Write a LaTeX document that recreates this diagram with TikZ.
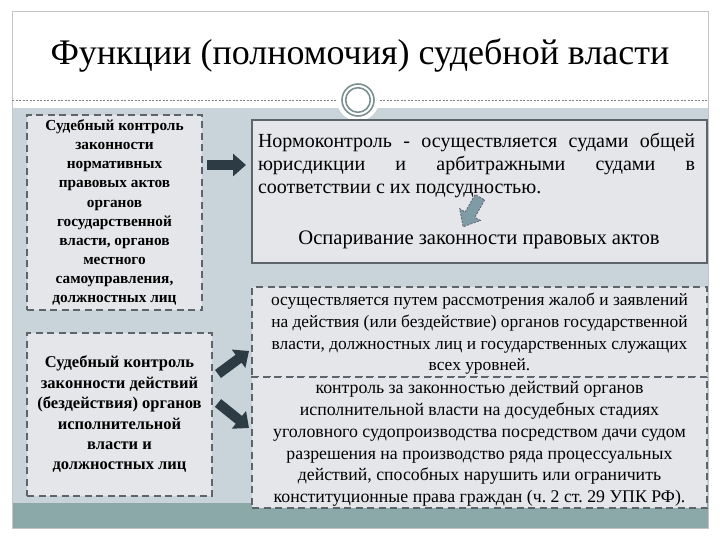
\documentclass[tikz,border=0pt]{standalone}
\usepackage{fontspec}
\setmainfont{Liberation Serif}
\usetikzlibrary{arrows.meta,calc}
\definecolor{slidebg}{HTML}{C9D3DA}
\definecolor{bandteal}{HTML}{8AA9A8}
\definecolor{boxfill}{HTML}{E5E6E9}
\definecolor{boxline}{HTML}{5D656B}
\definecolor{arrowdark}{HTML}{2C3B44}
\definecolor{ringcol}{HTML}{7B9090}
\definecolor{framegray}{HTML}{C4C4C4}
\definecolor{smallarrow}{HTML}{7F9CA6}
\tikzset{
  dbox/.style={draw=boxline, fill=boxfill, line width=2.5pt, dash pattern=on 7pt off 4.5pt, inner sep=0pt},
  sbox/.style={draw=boxline, fill=boxfill, line width=2pt, inner sep=0pt},
  bigarrow/.style={draw=arrowdark, line width=10pt, -{Triangle[length=13pt,width=22pt]}, shorten >=0pt},
  ring/.style={draw=ringcol, line width=1.6pt},
  boldtxt/.style={align=center, font=\fontsize{15.3}{19.1}\selectfont\bfseries},
  plaintxt/.style={align=center, font=\fontsize{17.8}{21.7}\selectfont},
}
\begin{document}
\frenchspacing
\begin{tikzpicture}[x=1pt,y=-1pt]
\useasboundingbox (0,0) rectangle (720,540);
\fill[white] (0,0) rectangle (720,540);
\fill[slidebg] (12,108) rectangle (708,503);
\fill[bandteal] (12,503) rectangle (708,528);
\draw[framegray, line width=1pt] (12,12) rectangle (708,528);
\draw[gray, line width=0.6pt, dash pattern=on 2pt off 1.5pt] (12,100) -- (708,100);
\fill[white] (358,100) circle (21);
\draw[ring] (358,100) circle (16);
\draw[ring] (358,100) circle (12.3);
\node (title) at (360,56) {\fontsize{36}{40}\selectfont Функции (полномочия) судебной власти};

% boxes
\node[dbox, minimum width=175pt, minimum height=195pt] (b1) at (114.5,212.5) {};
\node[boldtxt] (t1) at (b1.center) {Судебный контроль\\законности\\нормативных\\правовых актов\\органов\\государственной\\власти, органов\\местного\\самоуправления,\\должностных лиц};

\node[sbox, minimum width=455pt, minimum height=143pt] (b2) at (479.5,191.5) {};
\node[text width=437pt, align=justify, font=\fontsize{20}{23}\selectfont, inner sep=0pt] (norm) at (476.5,166) {Нормоконтроль - осуществляется судами общей\linebreak юрисдикции и арбитражными судами в\linebreak соответствии с их подсудностью.};
\node[font=\fontsize{20.6}{23}\selectfont] (osp) at (479,240) {Оспаривание законности правовых актов};
\filldraw[fill=smallarrow, draw=boxline, line width=0.8pt, dash pattern=on 2pt off 1.5pt]
  (484.67,199.92) -- (474.81,217.32) -- (480.46,220.53) -- (463.12,226.79)
  -- (459.58,208.69) -- (465.24,211.90) -- (475.10,194.50) -- cycle;

\node[dbox, minimum width=185pt, minimum height=163pt] (b3) at (119.5,414.5) {};
\node[boldtxt, font=\fontsize{16.5}{20.4}\selectfont\bfseries] (t3) at (b3.center) {Судебный контроль\\законности действий\\(бездействия) органов\\исполнительной\\власти и\\должностных лиц};

\node[dbox, minimum width=455pt, minimum height=90pt] (b4) at (479.5,332) {};
\node[plaintxt, font=\fontsize{17.4}{21.7}\selectfont] (t4) at ($(b4.center)+(0,2)$) {осуществляется путем рассмотрения жалоб и заявлений\\на действия (или бездействие) органов государственной\\власти, должностных лиц и государственных служащих\\всех уровней.};

\node[dbox, minimum width=455pt, minimum height=131pt] (b5) at (479.5,442.5) {};
\node[plaintxt] (t5) at ($(b5.center)+(0,1.5)$) {контроль за законностью действий органов\\исполнительной власти на досудебных стадиях\\уголовного судопроизводства посредством дачи судом\\разрешения на производство ряда процессуальных\\действий, способных нарушить или ограничить\\конституционные права граждан (ч. 2 ст. 29 УПК РФ).};

% arrows
\coordinate (a1s) at (207,165);
\coordinate (a1e) at (246,165);
\coordinate (a2s) at (218,374);
\coordinate (a2e) at (249,351);
\coordinate (a3s) at (218,403);
\coordinate (a3e) at (249,428);
\draw[bigarrow] (a1s) -- (a1e);
\draw[bigarrow] (a2s) -- (a2e);
\draw[bigarrow] (a3s) -- (a3e);
\end{tikzpicture}
\end{document}
